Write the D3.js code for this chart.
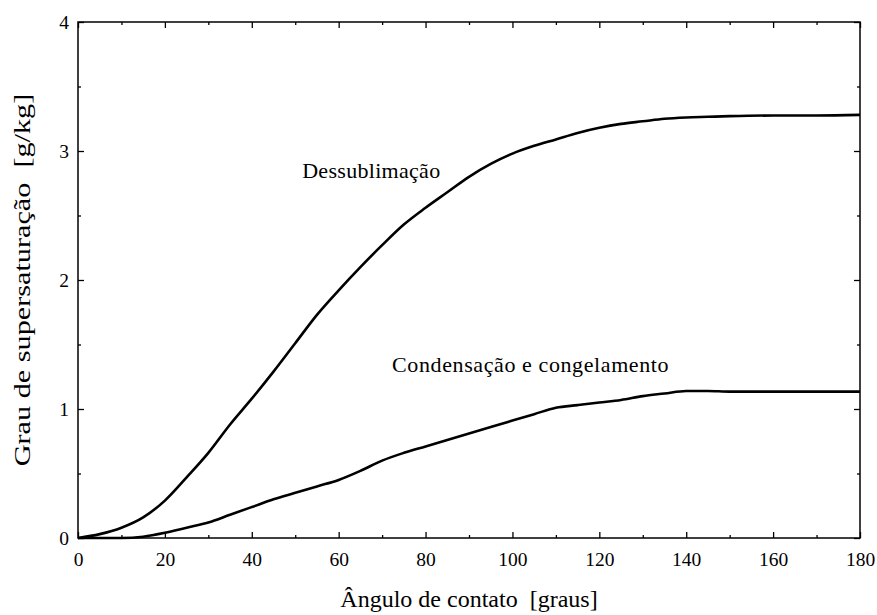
<!DOCTYPE html>
<html>
<head>
<meta charset="utf-8">
<script src="https://cdn.jsdelivr.net/npm/d3@7"></script>
<style>
  body { margin: 0; background: #fff; }
</style>
</head>
<body>
<div id="chart"></div>
<script>
// data
var angles = [0, 5, 10, 15, 20, 25, 30, 35, 40, 45, 50, 55, 60, 65, 70, 75, 80, 85, 90, 95, 100, 105, 110, 115, 120, 125, 130, 135, 140, 145, 150, 160, 170, 180];
var dessublimacao = [0, 0.03, 0.08, 0.16, 0.29, 0.47, 0.66, 0.88, 1.08, 1.29, 1.51, 1.73, 1.92, 2.10, 2.27, 2.43, 2.56, 2.68, 2.80, 2.90, 2.98, 3.04, 3.09, 3.14, 3.18, 3.21, 3.23, 3.25, 3.26, 3.265, 3.27, 3.275, 3.275, 3.28];
var condensacao = [0, 0, 0, 0.01, 0.04, 0.08, 0.12, 0.18, 0.24, 0.30, 0.35, 0.40, 0.45, 0.52, 0.60, 0.66, 0.71, 0.76, 0.81, 0.86, 0.91, 0.96, 1.01, 1.03, 1.05, 1.07, 1.10, 1.12, 1.14, 1.14, 1.135, 1.135, 1.135, 1.135];
var xTicks = [0, 20, 40, 60, 80, 100, 120, 140, 160, 180];
var yTicks = [0, 1, 2, 3, 4];

var FONT = "'Liberation Serif', 'Times New Roman', serif";
var W = 877, H = 615;
var margin = {top: 22, right: 17, bottom: 77, left: 78};
var width = W - margin.left - margin.right,
    height = H - margin.top - margin.bottom;

var svg = d3.select("#chart").append("svg")
    .attr("width", W)
    .attr("height", H)
    .style("font-family", FONT);

var g = svg.append("g")
    .attr("transform", "translate(" + margin.left + "," + margin.top + ")");

var x = d3.scaleLinear().domain([0, 180]).range([0, width]);
var y = d3.scaleLinear().domain([0, 4]).range([height, 0]);

// minor ticks every 10 on x, 0.5 on y
var xMinor = d3.range(10, 180, 20);
var yMinor = d3.range(0.5, 4, 1);

function clean(a) {
  a.select(".domain").remove();
  a.attr("font-family", null).attr("font-size", null);
}

// bottom axis with labels
g.append("g")
    .attr("transform", "translate(0," + height + ")")
    .call(d3.axisBottom(x).tickValues(xTicks).tickSizeInner(-6).tickSizeOuter(0).tickPadding(14).tickFormat(d3.format("d")))
    .call(clean)
    .call(function(a) { a.selectAll("text").style("font-size", "19.5px").style("font-family", FONT); });
g.append("g")
    .attr("transform", "translate(0," + height + ")")
    .call(d3.axisBottom(x).tickValues(xMinor).tickSizeInner(-3).tickSizeOuter(0).tickFormat(""))
    .call(clean);

// top axis ticks
g.append("g")
    .call(d3.axisTop(x).tickValues(xTicks).tickSizeInner(-6).tickSizeOuter(0).tickFormat(""))
    .call(clean);
g.append("g")
    .call(d3.axisTop(x).tickValues(xMinor).tickSizeInner(-3).tickSizeOuter(0).tickFormat(""))
    .call(clean);

// left axis with labels
g.append("g")
    .call(d3.axisLeft(y).tickValues(yTicks).tickSizeInner(-6).tickSizeOuter(0).tickPadding(9).tickFormat(d3.format("d")))
    .call(clean)
    .call(function(a) { a.selectAll("text").style("font-size", "19.5px").style("font-family", FONT); });
g.append("g")
    .call(d3.axisLeft(y).tickValues(yMinor).tickSizeInner(-3).tickSizeOuter(0).tickFormat(""))
    .call(clean);

// right axis ticks
g.append("g")
    .attr("transform", "translate(" + width + ",0)")
    .call(d3.axisRight(y).tickValues(yTicks).tickSizeInner(-6).tickSizeOuter(0).tickFormat(""))
    .call(clean);
g.append("g")
    .attr("transform", "translate(" + width + ",0)")
    .call(d3.axisRight(y).tickValues(yMinor).tickSizeInner(-3).tickSizeOuter(0).tickFormat(""))
    .call(clean);

g.selectAll(".tick line").attr("stroke", "#000").attr("stroke-width", 1.3);

// frame
g.append("rect")
    .attr("width", width)
    .attr("height", height)
    .attr("fill", "none")
    .attr("stroke", "#000")
    .attr("stroke-width", 1.5);

// curves
var line = d3.line()
    .x(function(d) { return x(d[0]); })
    .y(function(d) { return y(d[1]); })
    .curve(d3.curveMonotoneX);

[dessublimacao, condensacao].forEach(function(s) {
  g.append("path")
      .datum(angles.map(function(a, i) { return [a, s[i]]; }))
      .attr("fill", "none")
      .attr("stroke", "#000")
      .attr("stroke-width", 2.6)
      .attr("d", line);
});

// curve labels
g.append("text")
    .attr("x", x(51.6))
    .attr("y", y(2.79))
    .style("font-size", "22px")
    .style("letter-spacing", "0.3px")
    .style("font-family", FONT)
    .text("Dessublimação");
g.append("text")
    .attr("x", x(72.3))
    .attr("y", y(1.29))
    .style("font-size", "22px")
    .style("letter-spacing", "0.6px")
    .style("font-family", FONT)
    .text("Condensação e congelamento");

// axis titles
svg.append("text")
    .attr("x", margin.left + width / 2)
    .attr("y", 607)
    .attr("text-anchor", "middle")
    .style("font-size", "24px")
    .style("font-family", FONT)
    .attr("xml:space", "preserve")
    .text("Ângulo de contato  [graus]");

// y title is drawn a bit wider, like the original
svg.append("text")
    .attr("transform", "translate(30," + (margin.top + height / 2) + ") rotate(-90) scale(1.26,1)")
    .attr("text-anchor", "middle")
    .style("font-size", "24px")
    .style("font-family", FONT)
    .attr("xml:space", "preserve")
    .text("Grau de supersaturação  [g/kg]");
</script>
</body>
</html>
